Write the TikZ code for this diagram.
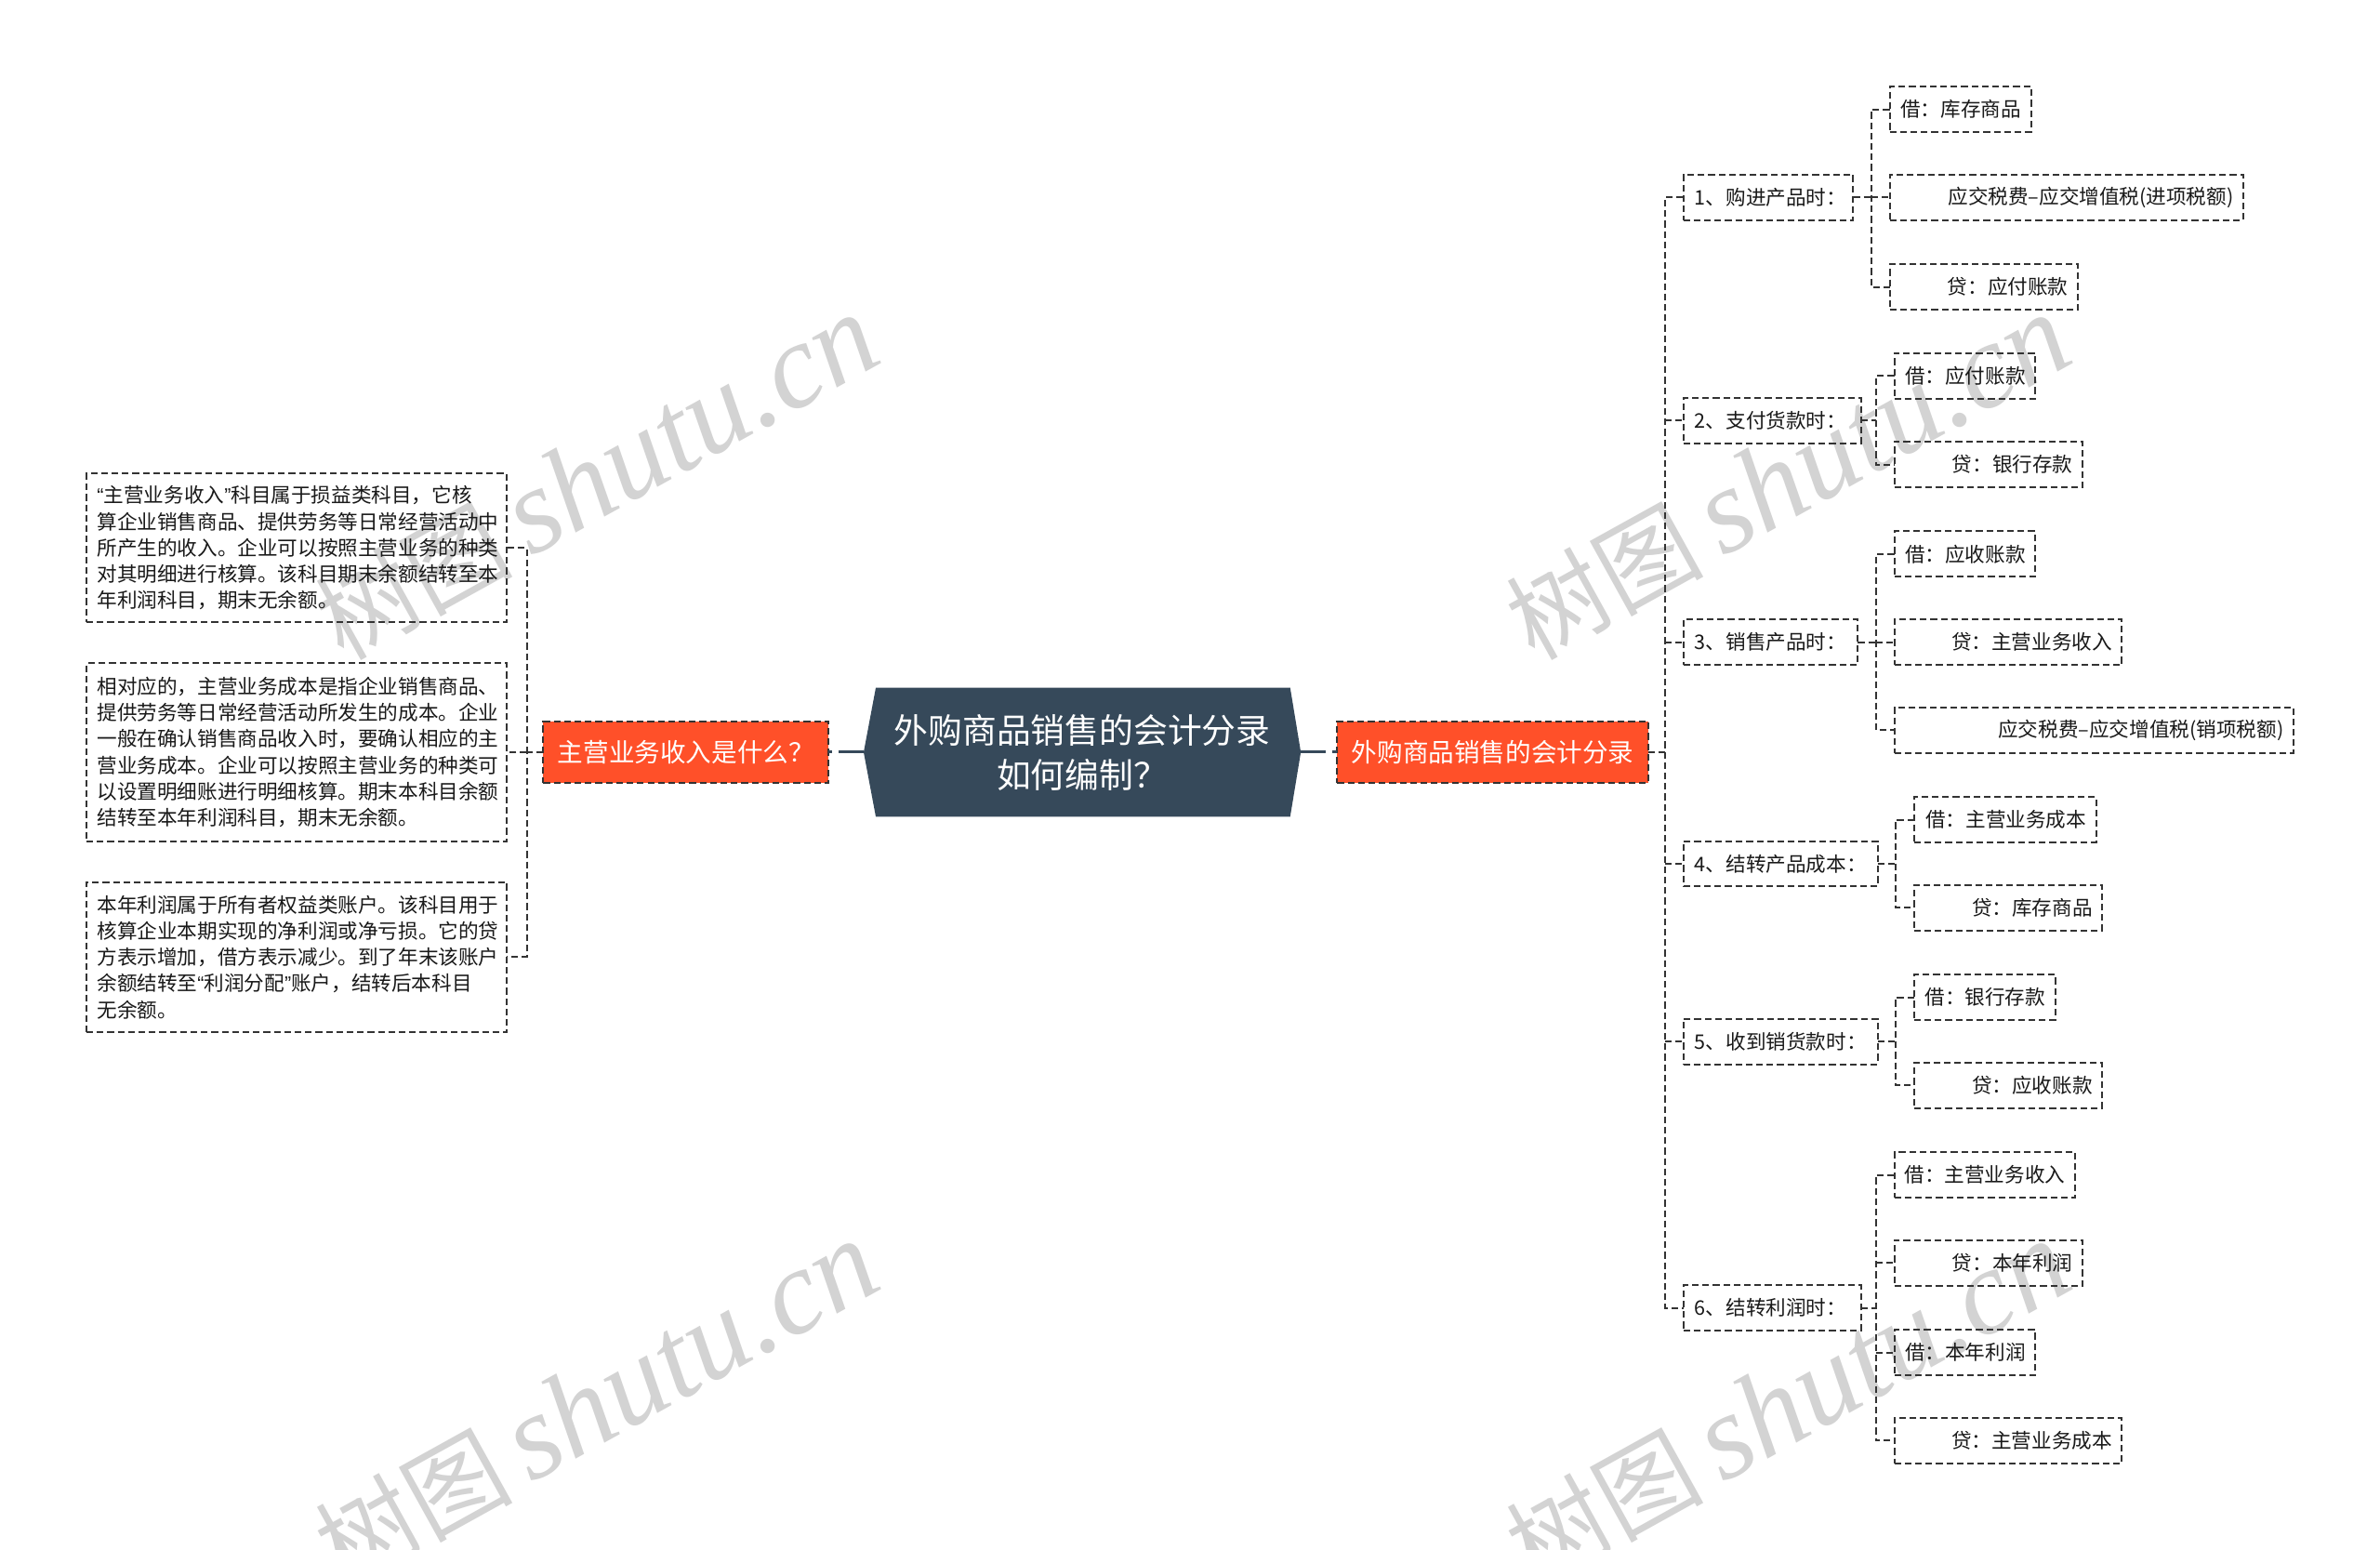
\documentclass[tikz,border=0pt]{standalone}
\usepackage{fontspec}
\setmainfont{Noto Sans CJK SC}
\newfontfamily\wmlatin{Liberation Serif}
\newfontfamily\qf{Liberation Sans}
\usetikzlibrary{calc}
\definecolor{rootc}{HTML}{36495A}
\definecolor{mainc}{HTML}{FF5029}
\definecolor{linec}{HTML}{333333}
\definecolor{wmc}{HTML}{D3D3D3}
\tikzset{
  x=0.8163pt,y=-0.8163pt,
  dashline/.style={draw=linec,line width=1pt,dash pattern=on 3.6pt off 2pt},
  conn/.style={dashline},
  rootconn/.style={draw=rootc,line width=1.5pt,dash pattern=on 13.5pt off 3.5pt},
  boxn/.style={dashline,inner sep=0pt,outer sep=0pt,text=black!90,font=\fontsize{10.8}{14.1}\selectfont},
  mainn/.style={draw=linec,line width=1pt,dash pattern=on 3.6pt off 2pt,fill=mainc,text=white,inner sep=0pt,outer sep=0pt,font=\fontsize{13.8}{17}\selectfont},
  wm/.style={text=wmc,rotate=29,inner sep=0pt},
}
% name, x1, x2, yc, text
\newcommand{\boxright}[5]{\node[boxn,anchor=west,minimum width={(#3-#2)*0.8163pt},minimum height={30*0.8163pt},text width={(#3-#2-13)*0.8163pt},align=right] (#1) at (#2,#4) {\raisebox{-0.6pt}{#5}};}
\newcommand{\boxleft}[5]{\node[boxn,anchor=west,minimum width={(#3-#2)*0.8163pt},minimum height={30*0.8163pt},text width={(#3-#2-15)*0.8163pt},align=left] (#1) at (#2,#4) {\raisebox{-0.6pt}{#5}};}
\newcommand{\boxpara}[6]{\node[boxn,anchor=west,minimum width={(#3-#2)*0.8163pt},minimum height={#5*0.8163pt},text width={(#3-#2-14)*0.8163pt},align=left] (#1) at (#2,#4) {#6};}
% parent side anchor, first child, last child, trunk coordinate, other children
\newcommand{\tree}[5]{%
  \draw[conn] (#2) -- (#4 |- #2) -- (#4 |- #3) -- (#3);
  \draw[conn] (#1) -- (#4 |- #1);
  \foreach \c in {#5} {\draw[conn] (#4 |- \c) -- (\c);}
}
\newcommand{\wmark}[2]{\node[wm] at (#1,#2) {\fontsize{53}{53}\selectfont 树图\hspace{0.18em}{\wmlatin\itshape\fontsize{65}{65}\selectfont shutu.cn}};}
\begin{document}
\begin{tikzpicture}
\clip (0,0) rectangle (1568,1021);
\fill[white] (0,0) rectangle (1568,1021);
% watermarks
\wmark{393}{315}
\wmark{1178}{315}
\wmark{393}{925}
\wmark{1178}{925}
% root
\fill[rootc] (569,495.5) -- (577,453) -- (850,453) -- (857,495.5) -- (850,538) -- (577,538) -- cycle;
\node[minimum width={288*0.8163pt},minimum height={85*0.8163pt},inner sep=0pt,outer sep=0pt,text=white,align=center,font=\fontsize{18.4}{24}\selectfont] (root) at (713,495.5) {外购商品销售的会计分录\\如何编制？};
% main topics
\node[mainn,minimum width={205*0.8163pt},minimum height={40*0.8163pt}] (R) at (983.5,495.5) {外购商品销售的会计分录};
\node[mainn,minimum width={188*0.8163pt},minimum height={40*0.8163pt}] (L) at (452,495.5) {主营业务收入是什么？};
\draw[rootconn] (root.east) -- (R.west);
\draw[rootconn] (root.west) -- (L.east);
% trunk coordinates
\coordinate (tL) at (347,0);
\coordinate (tR) at (1097,0);
\coordinate (t1) at (1233,0);
\coordinate (t2) at (1236,0);
\coordinate (t3) at (1236,0);
\coordinate (t4) at (1249,0);
\coordinate (t5) at (1249,0);
\coordinate (t6) at (1236,0);
% left paragraphs
\boxpara{p1}{57}{334}{361}{98}{{\qf “}主营业务收入{\qf ”}科目属于损益类科目，它核\\算企业销售商品、提供劳务等日常经营活动中\\所产生的收入。企业可以按照主营业务的种类\\对其明细进行核算。该科目期末余额结转至本\\年利润科目，期末无余额。}
\boxpara{p2}{57}{334}{495.5}{117}{相对应的，主营业务成本是指企业销售商品、\\提供劳务等日常经营活动所发生的成本。企业\\一般在确认销售商品收入时，要确认相应的主\\营业务成本。企业可以按照主营业务的种类可\\以设置明细账进行明细核算。期末本科目余额\\结转至本年利润科目，期末无余额。}
\boxpara{p3}{57}{334}{630.5}{99}{本年利润属于所有者权益类账户。该科目用于\\核算企业本期实现的净利润或净亏损。它的贷\\方表示增加，借方表示减少。到了年末该账户\\余额结转至{\qf “}利润分配{\qf ”}账户，结转后本科目\\无余额。}
% level 2
\boxleft{a1}{1109}{1221}{130}{1、购进产品时：}
\boxleft{a2}{1109}{1226}{277}{2、支付货款时：}
\boxleft{a3}{1109}{1224}{423}{3、销售产品时：}
\boxleft{a4}{1109}{1237}{569}{4、结转产品成本：}
\boxleft{a5}{1109}{1237}{686}{5、收到销货款时：}
\boxleft{a6}{1109}{1226}{861.5}{6、结转利润时：}
% leaves
\boxright{b11}{1245}{1338}{72}{借：库存商品}
\boxright{b12}{1245}{1478}{130}{应交税费–应交增值税(进项税额)}
\boxright{b13}{1245}{1369}{189}{贷：应付账款}
\boxright{b21}{1248}{1341}{247.5}{借：应付账款}
\boxright{b22}{1248}{1372}{306}{贷：银行存款}
\boxright{b31}{1248}{1341}{365}{借：应收账款}
\boxright{b32}{1248}{1398}{423}{贷：主营业务收入}
\boxright{b33}{1248}{1511}{481}{应交税费–应交增值税(销项税额)}
\boxright{b41}{1261}{1381}{540}{借：主营业务成本}
\boxright{b42}{1261}{1385}{598}{贷：库存商品}
\boxright{b51}{1261}{1354}{657}{借：银行存款}
\boxright{b52}{1261}{1385}{715}{贷：应收账款}
\boxright{b61}{1248}{1367}{774}{借：主营业务收入}
\boxright{b62}{1248}{1372}{832}{贷：本年利润}
\boxright{b63}{1248}{1341}{891}{借：本年利润}
\boxright{b64}{1248}{1398}{949}{贷：主营业务成本}
% connectors
\tree{L.west}{p1.east}{p3.east}{tL}{p2.east}
\tree{R.east}{a1.west}{a6.west}{tR}{a2.west,a3.west,a4.west,a5.west}
\tree{a1.east}{b11.west}{b13.west}{t1}{b12.west}
\tree{a2.east}{b21.west}{b22.west}{t2}{}
\tree{a3.east}{b31.west}{b33.west}{t3}{b32.west}
\tree{a4.east}{b41.west}{b42.west}{t4}{}
\tree{a5.east}{b51.west}{b52.west}{t5}{}
\tree{a6.east}{b61.west}{b64.west}{t6}{b62.west,b63.west}
\end{tikzpicture}
\end{document}
